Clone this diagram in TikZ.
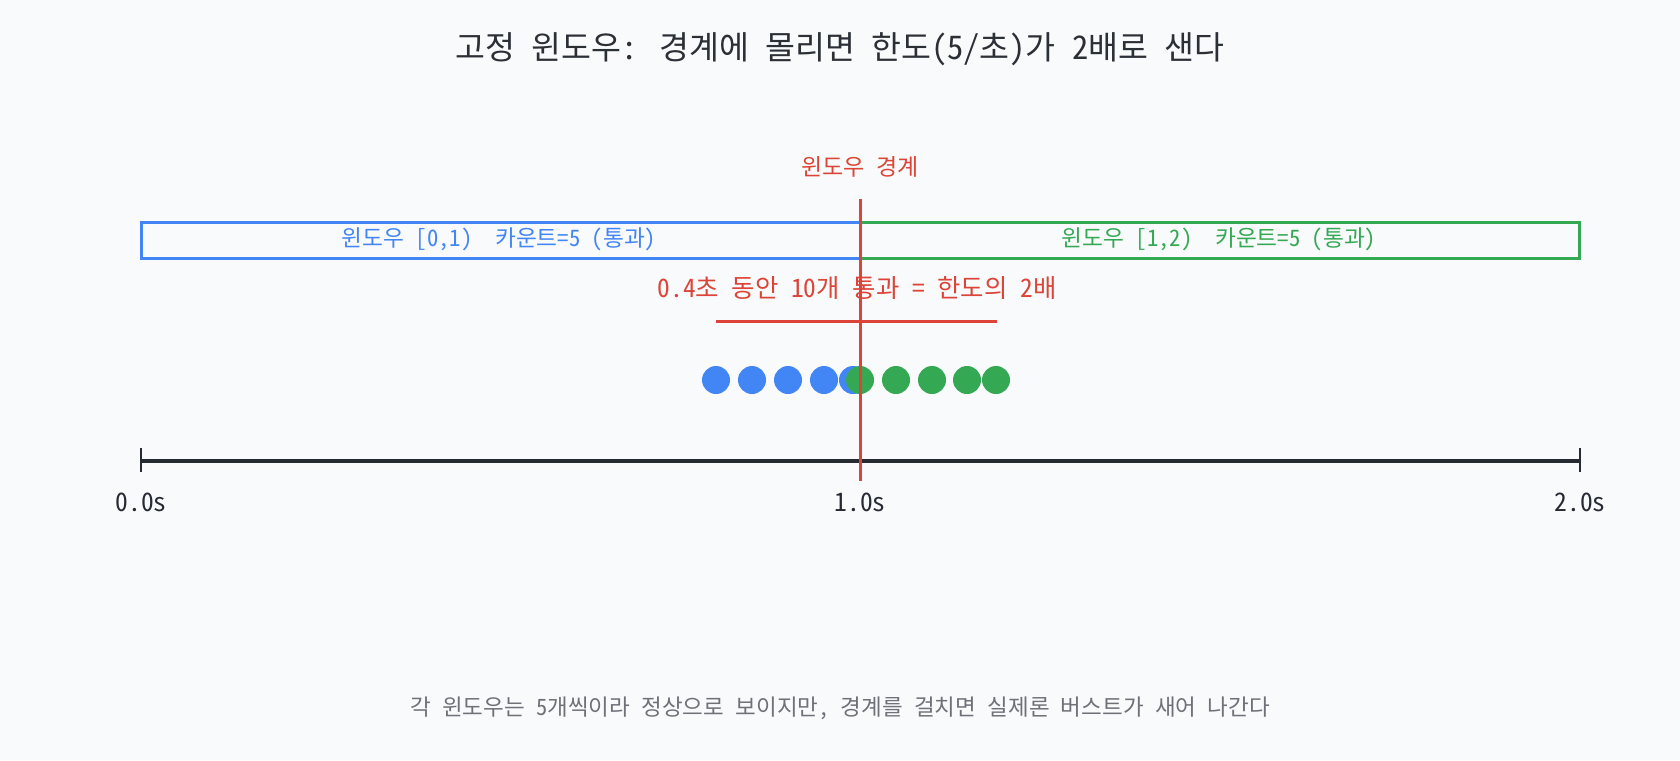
\documentclass[tikz,border=0pt]{standalone}
\usepackage{fontspec}
\setmainfont{Noto Sans Mono CJK KR}
\definecolor{bgc}{HTML}{F9FAFC}
\definecolor{bluec}{HTML}{4285F4}
\definecolor{greenc}{HTML}{34A853}
\definecolor{redc}{HTML}{DB4437}
\definecolor{darkc}{HTML}{262B33}
\definecolor{titlec}{HTML}{2B2F36}
\definecolor{grayc}{HTML}{6E7178}
\newcommand{\fs}[1]{\fontsize{#1}{#1}\selectfont}
\tikzset{
  winbox/.style={draw=#1, line width=3pt},
  dot/.style={circle, fill=#1, minimum size=28pt, inner sep=0pt, draw=none},
  lbl/.style={inner sep=0pt, text=#1},
}
\begin{document}
\begin{tikzpicture}[x=1pt,y=-1pt]
\fill[bgc] (0,0) rectangle (1680,760);
\useasboundingbox (0,0) rectangle (1680,760);

\node[lbl=titlec, font=\fs{32.5}] (title) at (840,49) {고정 윈도우: 경계에 몰리면 한도(5/초)가 2배로 샌다};

% windows
\draw[winbox=bluec] (141,222) rectangle (860,258);
\draw[winbox=greenc] (860,222) rectangle (1579,258);
\node[lbl=bluec, font=\fs{22.7}] (wA) at (499,239) {윈도우 [0,1)\ \ 카운트=5 (통과)};
\node[lbl=greenc, font=\fs{22.7}] (wB) at (1219,239) {윈도우 [1,2)\ \ 카운트=5 (통과)};

% burst label and bar
\node[lbl=redc, font=\fs{25.4}] (burst) at (857,288) {0.4초 동안 10개 통과 = 한도의 2배};
\coordinate (bl) at (716,321);
\coordinate (br) at (997,321);
\draw[redc, line width=3pt] (bl) -- (br);

% dots
\foreach \x [count=\i] in {716,752,788,824,853}
  \node[dot=bluec] (b\i) at (\x,380) {};
\foreach \x [count=\i] in {860,896,932,967,996}
  \node[dot=greenc] (g\i) at (\x,380) {};

% axis
\coordinate (a0) at (141,461);
\coordinate (a2) at (1580,461);
\draw[darkc, line width=3.5pt] (a0) -- (a2);
\draw[darkc, line width=2.5pt] (141,448) -- (141,472);
\draw[darkc, line width=2.5pt] (1580,448) -- (1580,472);
\node[lbl=darkc, font=\fs{25.5}] (t0) at (141,502) {0.0s};
\node[lbl=darkc, font=\fs{25.5}] (t1) at (860,502) {1.0s};
\node[lbl=darkc, font=\fs{25.5}] (t2) at (1580,502) {2.0s};

% boundary
\node[lbl=redc, font=\fs{23}] (bnd) at (860,167) {윈도우 경계};
\coordinate (vt) at (860,199);
\coordinate (vb) at (860,481);
\draw[redc, line width=3pt] (vt) -- (vb);

% footer
\node[lbl=grayc, font=\fs{22.5}] (foot) at (840,708) {각 윈도우는 5개씩이라 정상으로 보이지만, 경계를 걸치면 실제론 버스트가 새어 나간다};
\end{tikzpicture}
\end{document}
